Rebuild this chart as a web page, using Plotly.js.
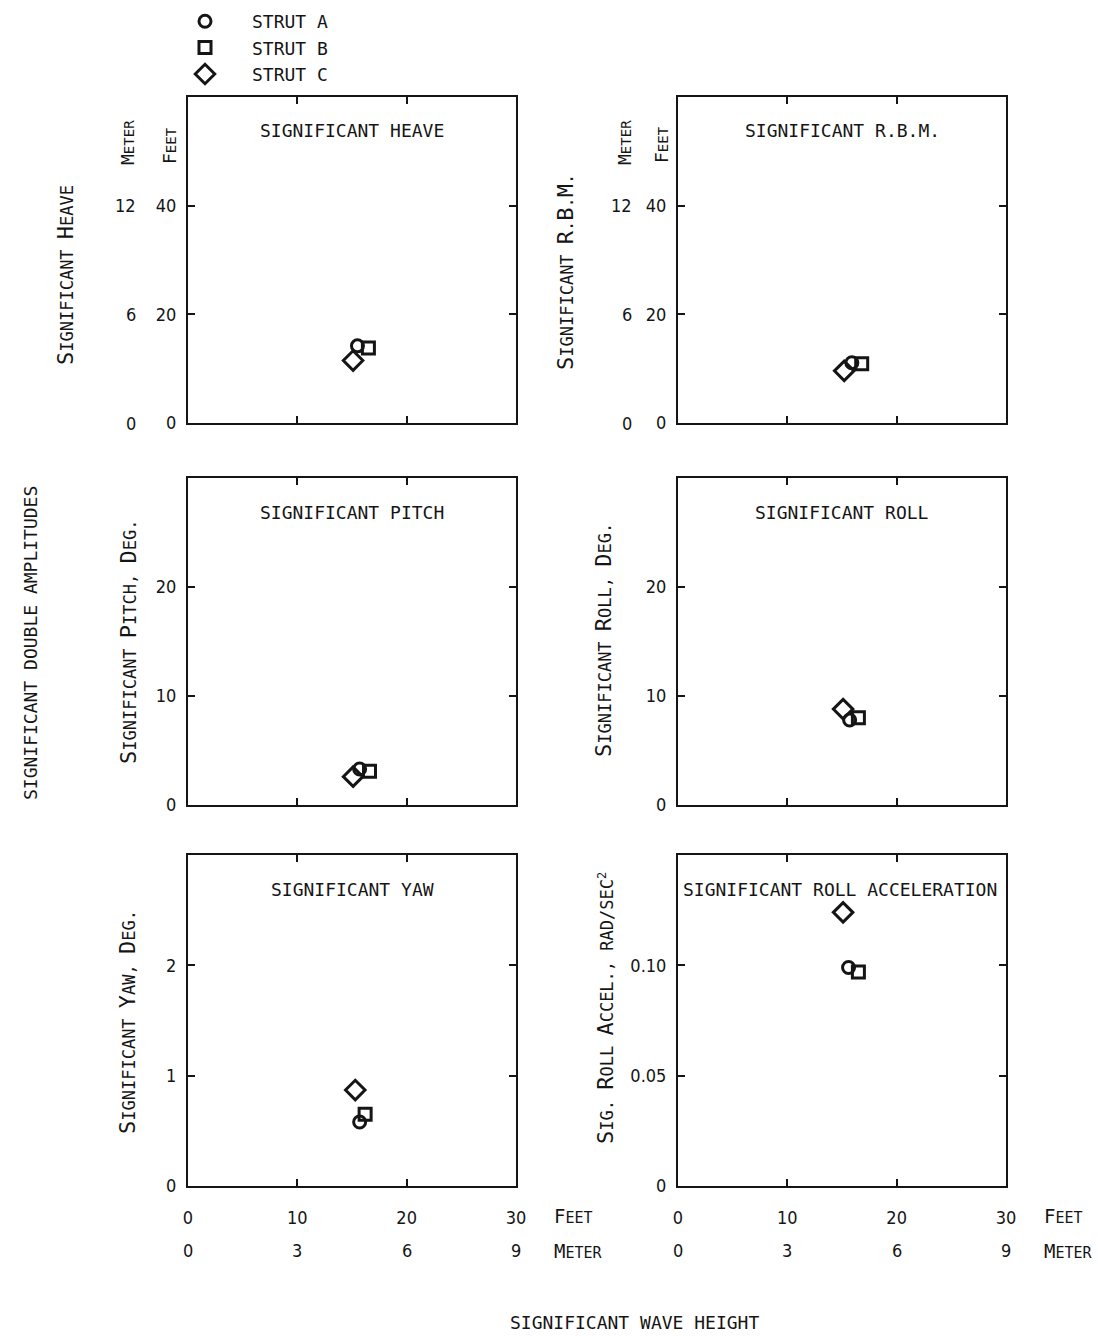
<!DOCTYPE html>
<html>
<head>
<meta charset="utf-8">
<script src="https://cdn.plot.ly/plotly-3.0.1.min.js"></script>
<style>html,body{margin:0;padding:0;background:#fff;}#chart{width:1098px;height:1336px;}</style>
</head>
<body>
<div id="chart"></div>
<script>
// ---- data (order: Strut A, Strut B, Strut C) ----
const strutNames = ['STRUT A', 'STRUT B', 'STRUT C'];
const strutSymbols = ['circle-open', 'square-open', 'diamond-open'];
const strutSizes = [12, 12, 15];

// significant wave height, feet
const heaveWave = [15.5, 16.5, 15.1];
const heaveVal  = [14.2, 13.8, 11.5];      // feet
const rbmWave   = [15.9, 16.8, 15.2];
const rbmVal    = [11.1, 10.9, 9.6];       // feet
const pitchWave = [15.7, 16.6, 15.1];
const pitchVal  = [3.3, 3.1, 2.6];         // deg
const rollWave  = [15.7, 16.5, 15.1];
const rollVal   = [7.8, 8.0, 8.8];         // deg
const yawWave   = [15.7, 16.2, 15.3];
const yawVal    = [0.58, 0.65, 0.87];      // deg
const accelWave = [15.6, 16.5, 15.1];
const accelVal  = [0.099, 0.097, 0.124];   // rad/sec^2

const xTickFeet = [0, 10, 20, 30];
const xTickMeter = ['0', '3', '6', '9'];
const ftTicks = [0, 20, 40];
const meterTickText = ['0', '6', '12'];
const degTicks = [0, 10, 20];
const yawTicks = [0, 1, 2];
const accelTicks = [0, 0.05, 0.10];
const accelTickText = ['0', '0.05', '0.10'];

const panelTitles = ['SIGNIFICANT HEAVE', 'SIGNIFICANT R.B.M.', 'SIGNIFICANT PITCH',
                     'SIGNIFICANT ROLL', 'SIGNIFICANT YAW', 'SIGNIFICANT ROLL ACCELERATION'];
// lower-case letters are drawn as small capitals
const yTitles = ['Significant Heave', 'Significant R.B.M.', 'Significant Pitch, Deg.',
                 'Significant Roll, Deg.', 'Significant Yaw, Deg.', 'Sig. Roll Accel., rad/sec'];

// ---- layout geometry ----
const W = 1098, H = 1336;
const FONT = 'DejaVu Sans Mono, Liberation Mono, monospace';
const NUMFONT = 'DejaVu Sans Condensed, Liberation Sans Narrow, sans-serif';
const INK = '#151515';
const px = v => v / W;
const py = v => 1 - v / H;
const colX = [[188, 516], [678, 1006]];
const rowY = [[97, 423], [478, 805], [855, 1186]];

// small-caps helper: upper-case chars get the big size, lower-case become small capitals
function sc(str, big) {
  let out = '';
  for (const ch of str) {
    if (ch >= 'A' && ch <= 'Z') out += '<span style="font-size:' + big + 'px">' + ch + '</span>';
    else out += ch.toUpperCase();
  }
  return out;
}

const panels = [
  {wave: heaveWave, val: heaveVal, range: [0, 60], tv: ftTicks, tt: ['0', '20', '40']},
  {wave: rbmWave, val: rbmVal, range: [0, 60], tv: ftTicks, tt: ['0', '20', '40']},
  {wave: pitchWave, val: pitchVal, range: [0, 30], tv: degTicks, tt: ['0', '10', '20']},
  {wave: rollWave, val: rollVal, range: [0, 30], tv: degTicks, tt: ['0', '10', '20']},
  {wave: yawWave, val: yawVal, range: [0, 3], tv: yawTicks, tt: ['0', '1', '2']},
  {wave: accelWave, val: accelVal, range: [0, 0.15], tv: accelTicks, tt: accelTickText}
];

const traces = [];
const layout = {
  width: W, height: H, autosize: false,
  margin: {l: 0, r: 0, t: 0, b: 0},
  paper_bgcolor: '#ffffff', plot_bgcolor: '#ffffff',
  font: {family: FONT, size: 18, color: INK},
  showlegend: true,
  legend: {x: px(158), y: py(3), xanchor: 'left', yanchor: 'top', itemwidth: 84,
           font: {family: FONT, size: 18, color: INK}, bgcolor: 'rgba(0,0,0,0)',
           tracegroupgap: 0},
  annotations: []
};

panels.forEach((p, i) => {
  const n = i + 1;
  const col = i % 2, row = Math.floor(i / 2);
  const xa = n === 1 ? 'x' : 'x' + n;
  const ya = n === 1 ? 'y' : 'y' + n;
  for (let s = 0; s < 3; s++) {
    traces.push({
      type: 'scatter', mode: 'markers',
      x: [p.wave[s]], y: [p.val[s]],
      xaxis: xa, yaxis: ya,
      name: strutNames[s], showlegend: i === 0, legendgroup: strutNames[s],
      marker: {symbol: strutSymbols[s], size: strutSizes[s], color: INK,
               line: {width: 3, color: INK}},
      hoverinfo: 'skip'
    });
  }
  const common = {showline: true, mirror: 'ticks', linecolor: INK, linewidth: 2,
                  ticks: 'inside', ticklen: 7, tickwidth: 2, tickcolor: INK,
                  showgrid: false, zeroline: false, fixedrange: true,
                  tickfont: {family: NUMFONT, size: 18, color: INK}};
  layout['xaxis' + (n === 1 ? '' : n)] = Object.assign({}, common, {
    domain: [px(colX[col][0]), px(colX[col][1])], anchor: ya,
    range: [0, 30], tickmode: 'array', tickvals: xTickFeet, ticktext: xTickFeet.map(String),
    showticklabels: row === 2, ticklabelstandoff: 14
  });
  layout['yaxis' + (n === 1 ? '' : n)] = Object.assign({}, common, {
    domain: [py(rowY[row][1]), py(rowY[row][0])], anchor: xa,
    range: p.range, tickmode: 'array', tickvals: p.tv, ticktext: p.tt,
    showticklabels: true, ticklabelstandoff: 6
  });
  // panel title
  layout.annotations.push({xref: 'paper', yref: 'paper',
    x: px((colX[col][0] + colX[col][1]) / 2 + (i === 5 ? -2 : 0)), y: py(rowY[row][0] + 34),
    text: panelTitles[i], showarrow: false, xanchor: 'center', yanchor: 'middle',
    font: {family: FONT, size: 18, color: INK}});
});

// y axis titles (small caps)
const yTitlePos = [[65, 275], [565, 272], [128, 642], [603, 640], [128, 1022], [606, 1008]];
yTitles.forEach((t, i) => {
  let txt = sc(t, 22);
  if (i === 5) txt += '<sup>2</sup>';
  layout.annotations.push({xref: 'paper', yref: 'paper', x: px(yTitlePos[i][0]), y: py(yTitlePos[i][1]),
    text: txt, textangle: -90, showarrow: false, xanchor: 'center', yanchor: 'middle',
    font: {family: FONT, size: 17, color: INK}});
});

// meter column for heave and RBM panels
[[138, 'y'], [634, 'y2']].forEach(([xr, yr]) => {
  ftTicks.forEach((v, k) => {
    layout.annotations.push({xref: 'paper', yref: yr, x: px(xr), y: v, text: meterTickText[k],
      showarrow: false, xanchor: 'right', yanchor: 'middle',
      font: {family: NUMFONT, size: 18, color: INK}});
  });
});
// unit headers over the y tick columns
[[128, 143, 'Meter'], [170, 145, 'Feet'], [625, 143, 'Meter'], [662, 145, 'Feet']].forEach(([x, y, t]) => {
  layout.annotations.push({xref: 'paper', yref: 'paper', x: px(x), y: py(y), text: sc(t, 18), textangle: -90,
    showarrow: false, xanchor: 'center', yanchor: 'middle',
    font: {family: FONT, size: 14, color: INK}});
});
// meter row under x axis of bottom panels
['x5', 'x6'].forEach(xr => {
  xTickFeet.forEach((v, k) => {
    layout.annotations.push({xref: xr, yref: 'paper', x: v, y: py(1250), text: xTickMeter[k],
      showarrow: false, xanchor: 'center', yanchor: 'middle',
      font: {family: NUMFONT, size: 18, color: INK}});
  });
});
[[552, 'Feet', 1216], [552, 'Meter', 1251], [1042, 'Feet', 1216], [1042, 'Meter', 1251]].forEach(([x, t, y]) => {
  layout.annotations.push({xref: 'paper', yref: 'paper', x: px(x), y: py(y), text: sc(t, 19),
    showarrow: false, xanchor: 'left', yanchor: 'middle',
    font: {family: FONT, size: 15, color: INK}});
});
// global titles
layout.annotations.push({xref: 'paper', yref: 'paper', x: px(30), y: py(643),
  text: 'SIGNIFICANT DOUBLE AMPLITUDES', textangle: -90, showarrow: false,
  xanchor: 'center', yanchor: 'middle', font: {family: FONT, size: 18, color: INK}});
layout.annotations.push({xref: 'paper', yref: 'paper', x: px(634), y: py(1322),
  text: 'SIGNIFICANT WAVE HEIGHT', showarrow: false,
  xanchor: 'center', yanchor: 'middle', font: {family: FONT, size: 18, color: INK}});

Plotly.newPlot('chart', traces, layout, {staticPlot: true, displayModeBar: false});
</script>
</body>
</html>
